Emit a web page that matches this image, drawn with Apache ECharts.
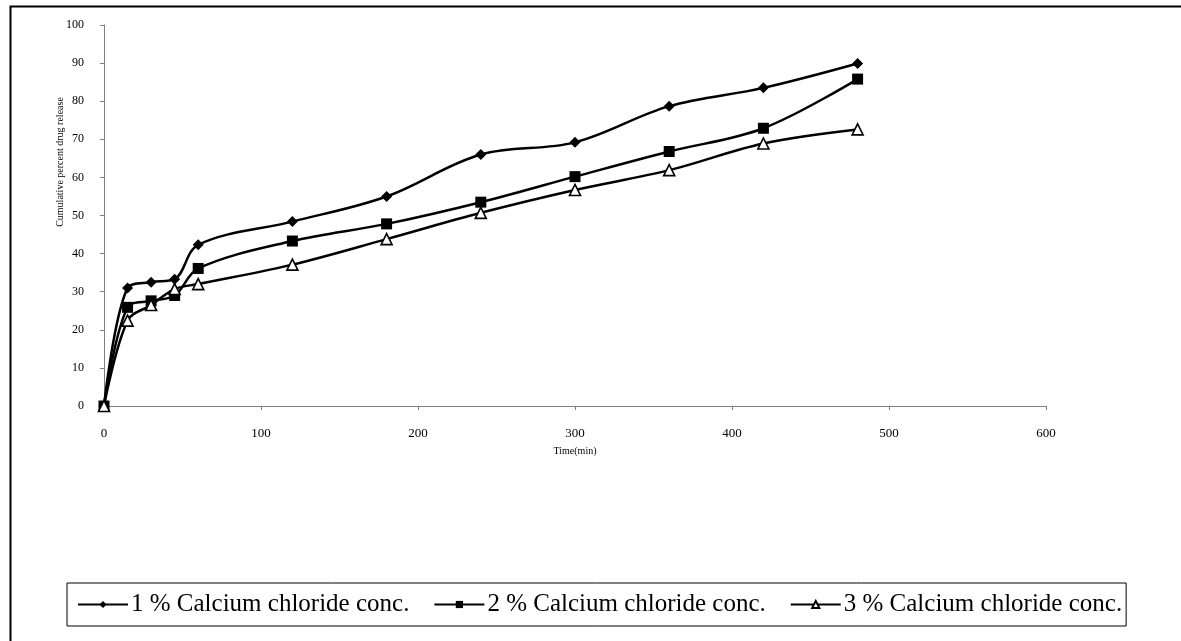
<!DOCTYPE html>
<html>
<head>
<meta charset="utf-8">
<script src="https://cdn.jsdelivr.net/npm/echarts@6/dist/echarts.min.js"></script>
<style>
  html, body { margin: 0; padding: 0; background: #fff; }
  #chart { width: 1181px; height: 641px; }
</style>
</head>
<body>
<div id="chart"></div>
<script>
// time points (min)
const times = [0, 15, 30, 45, 60, 120, 180, 240, 300, 360, 420, 480]
// cumulative percent drug release for each CaCl2 concentration
const cacl1 = [0, 31, 32.5, 33.3, 42.3, 48.4, 55, 66, 69.2, 78.7, 83.5, 89.9]
const cacl2 = [0, 25.9, 27.6, 29, 36.1, 43.3, 47.8, 53.5, 60.2, 66.8, 72.9, 85.8]
const cacl3 = [0, 22.4, 26.5, 30.7, 32, 37.1, 43.8, 50.7, 56.7, 61.9, 68.9, 72.6]
const seriesNames = ['1 % Calcium chloride conc.', '2 % Calcium chloride conc.', '3 % Calcium chloride conc.']

const font = '"Liberation Serif", "Times New Roman", serif'

function pairs(ys) {
  return times.map((t, i) => [t, ys[i]])
}

function mkSeries(name, ys, symbol, size, hollow) {
  return {
    name: name,
    type: 'line',
    smooth: 0.35,
    symbol: symbol,
    symbolSize: size,
    showAllSymbol: true,
    lineStyle: { color: '#000', width: 2.5 },
    itemStyle: hollow
      ? { color: '#fff', borderColor: '#000', borderWidth: 1.6 }
      : { color: '#000', borderColor: '#000', borderWidth: 0 },
    emphasis: { disabled: true },
    data: pairs(ys)
  }
}

let chart = echarts.init(document.getElementById('chart'), null, { renderer: 'canvas' })

let option = {
  animation: false,
  backgroundColor: '#fff',
  grid: { left: 104, right: 135, top: 25, bottom: 235 },
  xAxis: {
    type: 'value',
    min: 0,
    max: 600,
    interval: 100,
    name: 'Time(min)',
    nameLocation: 'middle',
    nameGap: 40,
    nameTextStyle: { fontFamily: font, fontSize: 10, color: '#000' },
    axisLine: { show: true, lineStyle: { color: '#808080', width: 1 } },
    axisTick: { show: true, length: 4, lineStyle: { color: '#808080' } },
    axisLabel: { fontFamily: font, fontSize: 13, color: '#000', margin: 21 },
    splitLine: { show: false }
  },
  yAxis: {
    type: 'value',
    min: 0,
    max: 100,
    interval: 10,
    axisLine: { show: true, lineStyle: { color: '#808080', width: 1 } },
    axisTick: { show: true, length: 4, lineStyle: { color: '#808080' } },
    axisLabel: { fontFamily: font, fontSize: 12, color: '#000', margin: 20 },
    splitLine: { show: false }
  },
  legend: {
    left: 67,
    top: 583,
    padding: [9, 4, 9, 10],
    itemWidth: 50,
    itemHeight: 9,
    itemGap: 24,
    borderColor: '#000',
    borderWidth: 1,
    selectedMode: false,
    textStyle: { fontFamily: font, fontSize: 25, color: '#000', padding: [0, 0, 0, -2] },
    data: seriesNames
  },
  graphic: [
    {
      type: 'rect',
      left: 8, top: 4,
      shape: { width: 1300, height: 800 },
      style: { fill: 'none', stroke: '#000', lineWidth: 2 },
      silent: true
    },
    {
      type: 'text',
      x: 60, y: 162,
      rotation: Math.PI / 2,
      style: {
        text: 'Cumulative percent drug release',
        fontFamily: font, fontSize: 10, fill: '#000',
        align: 'center', verticalAlign: 'middle'
      }
    }
  ],
  series: [
    mkSeries(seriesNames[0], cacl1, 'diamond', 11, false),
    mkSeries(seriesNames[1], cacl2, 'rect', 11, false),
    mkSeries(seriesNames[2], cacl3, 'triangle', 11, true)
  ]
}

chart.setOption(option)
</script>
</body>
</html>
